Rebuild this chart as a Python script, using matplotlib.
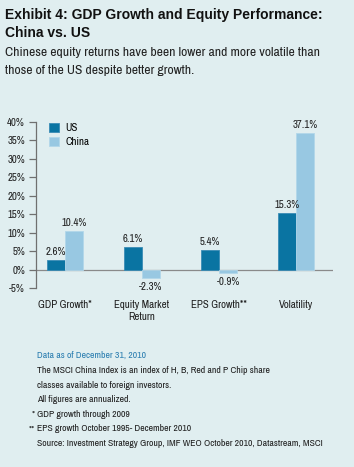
import numpy as np
import matplotlib
matplotlib.use('Agg')
import matplotlib.pyplot as plt

categories = ['GDP Growth*', 'Equity Market\nReturn', 'EPS Growth**', 'Volatility']
us_values = [2.6, 6.1, 5.4, 15.3]
china_values = [10.4, -2.3, -0.9, 37.1]
y_ticks = [-5, 0, 5, 10, 15, 20, 25, 30, 35, 40]

bg = '#e0eef0'
us_color = '#0a74a2'
china_color = '#98c8e2'
text_color = '#1e1e1e'

plt.rcParams['font.family'] = ['Archivo Narrow', 'DejaVu Sans']

fig = plt.figure(figsize=(3.54, 4.67), dpi=100, facecolor=bg)
ax = fig.add_axes([0.1017, 0.3833, 0.839, 0.3555], facecolor=bg)

x = np.arange(len(categories))
w = 0.234
bars_us = ax.bar(x - w / 2, us_values, w, color=us_color, edgecolor='#3a8cb5', linewidth=0.6, label='US')
bars_cn = ax.bar(x + w / 2, china_values, w, color=china_color, edgecolor='#b2d7ea', linewidth=0.6, label='China')

for bars, vals in [(bars_us, us_values), (bars_cn, china_values)]:
    for b, v in zip(bars, vals):
        cx = b.get_x() + b.get_width() / 2
        if v >= 0:
            ax.text(cx, v + 0.8, f'{v:.1f}%', ha='center', va='bottom', fontsize=7.8,
                    color=text_color, clip_on=False)
        else:
            ax.text(cx, v - 1.2, f'{v:.1f}%', ha='center', va='top', fontsize=7.8,
                    color=text_color, clip_on=False)

ax.set_xlim(-0.377, 3.48)
ax.set_ylim(-5, 40)
ax.set_yticks(y_ticks)
ax.set_yticklabels([f'{t}%' for t in y_ticks], fontsize=7.8, color=text_color)
ax.tick_params(axis='y', length=5, width=0.9, color='#707070', pad=3)
ax.set_xticks([])
for s in ['top', 'right', 'bottom']:
    ax.spines[s].set_visible(False)
ax.spines['left'].set_color('#707070')
ax.spines['left'].set_linewidth(0.9)
ax.axhline(0, color='#8a8a8a', lw=0.9, zorder=0)

for i, c in enumerate(categories):
    ax.annotate(c, xy=(i, 0), xycoords=('data', 'axes fraction'), xytext=(0, -9),
                textcoords='offset points', ha='center', va='top', fontsize=7.8,
                color=text_color, linespacing=1.25)

ax.legend(loc='upper left', bbox_to_anchor=(0.03, 1.02), frameon=False, fontsize=7.8,
          handlelength=0.9, handleheight=0.9, handletextpad=0.6, labelspacing=0.35,
          borderaxespad=0)

# title block
fig.text(0.014, 1 - 19 / 467, 'Exhibit 4: GDP Growth and Equity Performance:', fontsize=10,
         fontweight='bold', family=['Liberation Sans', 'DejaVu Sans'], va='baseline', color='#111111')
fig.text(0.014, 1 - 37 / 467, 'China vs. US', fontsize=10,
         fontweight='bold', family=['Liberation Sans', 'DejaVu Sans'], va='baseline', color='#111111')
fig.text(0.014, 1 - 56 / 467, 'Chinese equity returns have been lower and more volatile than',
         fontsize=9.8, va='baseline', color='#222222')
fig.text(0.014, 1 - 74 / 467, 'those of the US despite better growth.',
         fontsize=9.8, va='baseline', color='#222222')

# footnotes
notes = ['The MSCI China Index is an index of H, B, Red and P Chip share',
         'classes available to foreign investors.',
         'All figures are annualized.',
         'GDP growth through 2009',
         'EPS growth October 1995- December 2010',
         'Source: Investment Strategy Group, IMF WEO October 2010, Datastream, MSCI']
fig.text(37 / 354, 1 - 358 / 467, 'Data as of December 31, 2010', fontsize=7,
         va='baseline', color='#2a7db0')
for k, n in enumerate(notes):
    fig.text(37 / 354, 1 - (373 + k * 14.6) / 467, n, fontsize=7, va='baseline', color=text_color)
fig.text(35 / 354, 1 - (373 + 3 * 14.6) / 467, '*', fontsize=7, va='baseline', ha='right', color=text_color)
fig.text(35 / 354, 1 - (373 + 4 * 14.6) / 467, '**', fontsize=7, va='baseline', ha='right', color=text_color)

fig.savefig('out.png', dpi=100, facecolor=bg)
